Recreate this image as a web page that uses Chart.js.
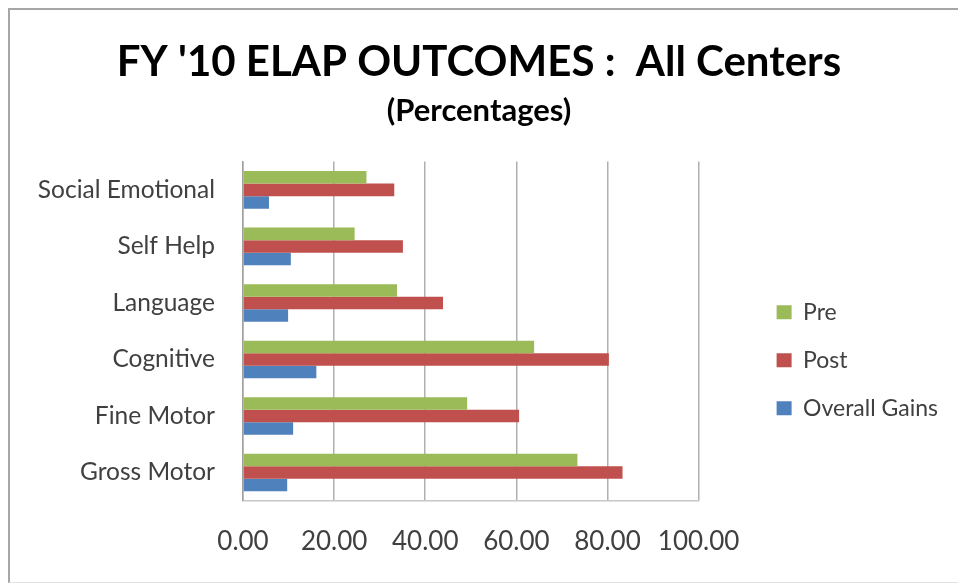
<!DOCTYPE html>
<html>
<head>
<meta charset="utf-8">
<script src="https://cdn.jsdelivr.net/npm/chart.js@4"></script>
<style>
  html, body { margin: 0; padding: 0; background: #fff; overflow: hidden; }
  #frame {
    position: absolute; left: 8px; top: 8px;
    width: 948px; height: 572px;
    border-left: 2px solid #a6a6a6; border-top: 2px solid #a6a6a6;
    border-bottom: 1px solid #e2e2e2;
  }
  #wrap { position: relative; width: 948px; height: 572px; }
</style>
</head>
<body>
<div id="frame"><div id="wrap"><canvas id="chart"></canvas></div></div>
<script>
// FY '10 ELAP outcomes (percent)
const categories = ['Social Emotional', 'Self Help', 'Language', 'Cognitive', 'Fine Motor', 'Gross Motor'];
const preValues = [27.1, 24.5, 33.8, 63.9, 49.2, 73.4];
const postValues = [33.2, 35.1, 43.9, 80.3, 60.6, 83.3];
const gainValues = [5.7, 10.5, 9.9, 16.1, 11.0, 9.7];
const xTicks = [0, 20, 40, 60, 80, 100];

const FONT = 'Lato, "Open Sans", sans-serif';

const datasets = [
  { label: 'Pre', data: preValues, backgroundColor: '#9bbb59' },
  { label: 'Post', data: postValues, backgroundColor: '#c0504d' },
  { label: 'Overall Gains', data: gainValues, backgroundColor: '#4f81bd' },
].map((d) => ({ ...d, borderWidth: 0, barPercentage: 1, categoryPercentage: 0.665 }));

// eslint-disable-next-line no-undef
new Chart(document.getElementById('chart'), {
  type: 'bar',
  data: { labels: categories, datasets },
  options: {
    indexAxis: 'y',
    responsive: true,
    maintainAspectRatio: false,
    animation: false,
    layout: { padding: { left: 0, right: 10, top: 0, bottom: 0 } },
    plugins: {
      title: {
        display: true,
        text: "FY '10 ELAP OUTCOMES :  All Centers",
        color: '#000',
        font: { family: FONT, size: 42, weight: 'bold' },
        padding: { top: 27, bottom: 5 },
      },
      subtitle: {
        display: true,
        text: '(Percentages)',
        color: '#000',
        font: { family: FONT, size: 31, weight: 'bold' },
        padding: { top: 0, bottom: 32 },
      },
      legend: {
        position: 'right',
        fullSize: false,
        maxWidth: 300,
        title: { display: true, text: ' ', font: { size: 1 }, padding: { top: 57, bottom: 0 } },
        labels: {
          color: '#404040',
          font: { family: FONT, size: 23 },
          boxWidth: 15,
          boxHeight: 14,
          padding: 25,
        },
      },
      tooltip: { enabled: false },
    },
    scales: {
      x: {
        min: 0,
        max: 100,
        afterBuildTicks: (s) => { s.ticks = xTicks.map((v) => ({ value: v })); },
        ticks: {
          color: '#404040',
          font: { family: FONT, size: 26 },
          padding: 25,
          callback: (v) => Number(v).toFixed(2),
        },
        grid: { color: '#b0b0b0', lineWidth: 1.5, drawTicks: false },
        border: { color: '#c8c8c8', width: 1.5 },
      },
      y: {
        afterFit: (s) => { s.width = 233; },
        ticks: {
          color: '#404040',
          font: { family: FONT, size: 24.5 },
          padding: 28,
        },
        grid: { display: false, drawTicks: false },
        border: { color: '#a0a0a0', width: 1.5 },
      },
      // empty spacer between the plot and the legend
      gap: {
        type: 'linear',
        position: 'right',
        afterFit: (s) => { s.width = 53; },
        ticks: { display: false },
        grid: { display: false, drawTicks: false },
        border: { display: false },
      },
    },
  },
});
</script>
</body>
</html>
